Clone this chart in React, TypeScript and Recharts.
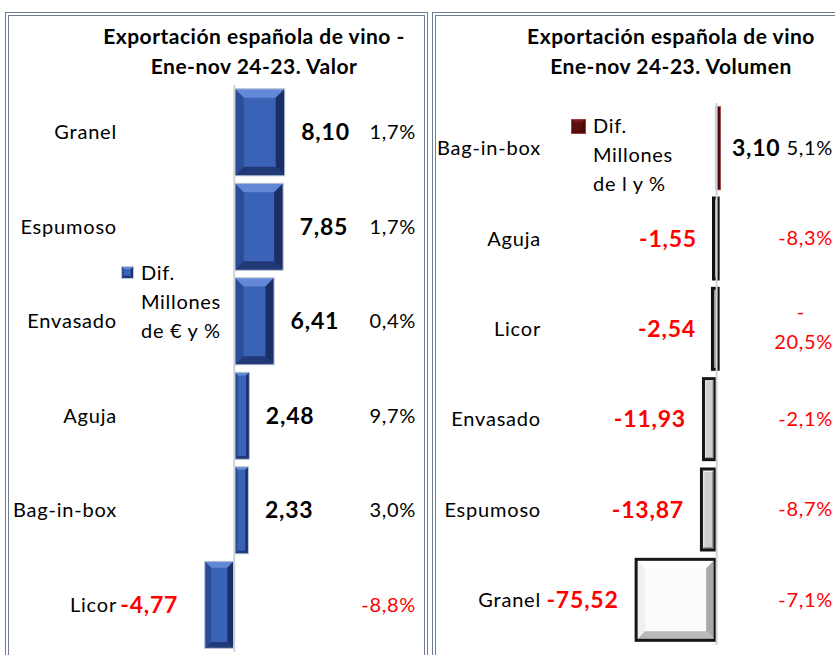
import React from "react";
import { BarChart, Bar, XAxis, YAxis, Cell, LabelList, Legend, ReferenceLine } from "recharts";

// Valor (millones de €)
const valorCategories = ["Granel", "Espumoso", "Envasado", "Aguja", "Bag-in-box", "Licor"];
const valorDiff = [8.1, 7.85, 6.41, 2.48, 2.33, -4.77];
const valorPct = [1.7, 1.7, 0.4, 9.7, 3.0, -8.8];

// Volumen (millones de litros)
const volumenCategories = ["Bag-in-box", "Aguja", "Licor", "Envasado", "Espumoso", "Granel"];
const volumenDiff = [3.1, -1.55, -2.54, -11.93, -13.87, -75.52];
const volumenPct = [5.1, -8.3, -20.5, -2.1, -8.7, -7.1];

const FONT = "Lato, 'Open Sans', sans-serif";

type Look = { face: string; light: string; side: string; dark: string; edge: string; edgeWidth: number };

const blueLook: Look = { face: "#3a62b6", light: "#6388d6", side: "#2b4c96", dark: "#1b2f66", edge: "#c3cad6", edgeWidth: 1 };

const volumenLooks: Look[] = [
  { face: "#5a1010", light: "#7a1a1a", side: "#5a1010", dark: "#4a0a0a", edge: "#9a4040", edgeWidth: 1 },
  { face: "#555", light: "#888", side: "#333", dark: "#9a9a9a", edge: "#111", edgeWidth: 3 },
  { face: "#555", light: "#888", side: "#333", dark: "#9a9a9a", edge: "#111", edgeWidth: 3 },
  { face: "#cfcfcf", light: "#f2f2f2", side: "#e6e6e6", dark: "#8a8a8a", edge: "#161616", edgeWidth: 3 },
  { face: "#cfcfcf", light: "#f2f2f2", side: "#e6e6e6", dark: "#8a8a8a", edge: "#161616", edgeWidth: 3 },
  { face: "#fbfbfb", light: "#ffffff", side: "#f0f0f0", dark: "#a9a9a9", edge: "#161616", edgeWidth: 3 },
];

const valorData = valorCategories.map((name, i) => ({ name, diff: valorDiff[i], pct: valorPct[i] }));
const volumenData = volumenCategories.map((name, i) => ({ name, diff: volumenDiff[i], pct: volumenPct[i] }));

const fmtNum = (v: number) => v.toFixed(2).replace(".", ",");
const fmtPct = (v: number) => v.toFixed(1).replace(".", ",") + "%";

const box = (p: any) => {
  const vb = p.viewBox || p;
  const x = Number(vb.x), w = Number(vb.width);
  return { left: w < 0 ? x + w : x, w: Math.abs(w), y: Number(vb.y), h: Number(vb.height), neg: w < 0 };
};

const BevelRect = ({ x, y, w, h, look }: { x: number; y: number; w: number; h: number; look: Look }) => {
  const e = look.edgeWidth;
  if (w < 7) {
    // very thin bars: outline drawn around the bar, as Excel does
    const ox = x - e, ow = w + 2 * e;
    return (
      <g>
        <rect x={ox} y={y} width={ow} height={h} fill={look.edge} />
        {e > 1 && <rect x={ox + e} y={y + e} width={Math.max(ow - 2 * e, 1)} height={h - 2 * e} fill={look.dark} />}
        {e === 1 && <rect x={ox + 1} y={y + 1} width={Math.max(ow - 2, 1)} height={h - 2} fill={look.dark} />}
      </g>
    );
  }
  const ix = x + e / 2, iy = y + e / 2, iw = w - e, ih = h - e;
  const b = Math.min(9, iw * 0.22, ih * 0.22);
  return (
    <g>
      <rect x={ix} y={iy} width={iw} height={ih} fill={look.face} />
      <polygon points={`${ix},${iy} ${ix + iw},${iy} ${ix + iw - b},${iy + b} ${ix + b},${iy + b}`} fill={look.light} />
      <polygon points={`${ix},${iy} ${ix + b},${iy + b} ${ix + b},${iy + ih - b} ${ix},${iy + ih}`} fill={look.side} />
      <polygon points={`${ix + iw},${iy} ${ix + iw},${iy + ih} ${ix + iw - b},${iy + ih - b} ${ix + iw - b},${iy + b}`} fill={look.dark} />
      <polygon points={`${ix},${iy + ih} ${ix + b},${iy + ih - b} ${ix + iw - b},${iy + ih - b} ${ix + iw},${iy + ih}`} fill={look.dark} opacity={0.8} />
      <rect x={x + e / 2} y={y + e / 2} width={w - e} height={h - e} fill="none" stroke={look.edge} strokeWidth={e} />
    </g>
  );
};

const valorShape = (props: any) => {
  const r = box(props);
  return <BevelRect x={r.left} y={r.y} w={r.w} h={r.h} look={blueLook} />;
};

const volumenShape = (props: any) => {
  const r = box(props);
  const look = volumenLooks[props.index] || volumenLooks[5];
  // thick outline sits outside the bar on its far side
  const grow = look.edgeWidth > 1 && r.w >= 7 ? 2 : 0;
  return <BevelRect x={r.left - grow} y={r.y} w={r.w + grow} h={r.h} look={look} />;
};

const makeValueLabel = (gapPos: number, gapNeg: number) => (props: any) => {
  const r = box(props);
  const v = Number(props.value);
  const neg = v < 0;
  const cy = r.y + r.h / 2;
  return (
    <text
      x={neg ? r.left - gapNeg : r.left + r.w + gapPos}
      y={cy}
      dy="0.35em"
      textAnchor={neg ? "end" : "start"}
      fontSize={23}
      fontWeight={700}
      letterSpacing={0.8}
      fill={neg ? "#ff0000" : "#000"}
    >
      {fmtNum(v)}
    </text>
  );
};

const makePctLabel = (rightX: number) => (props: any) => {
  const r = box(props);
  const v = Number(props.value);
  const s = fmtPct(v);
  const cy = r.y + r.h / 2;
  const color = v < 0 ? "#ff0000" : "#000";
  if (s.length > 5) {
    return (
      <text x={rightX} y={cy} textAnchor="end" fontSize={20} letterSpacing={0.7} fill={color}>
        <tspan x={rightX - 28} dy="-0.5em">-</tspan>
        <tspan x={rightX} dy="1.5em">{s.slice(1)}</tspan>
      </text>
    );
  }
  return (
    <text x={rightX} y={cy} dy="0.35em" textAnchor="end" fontSize={20} letterSpacing={0.7} fill={color}>
      {s}
    </text>
  );
};

const LegendBlock = ({ lines, square, size }: { lines: string[]; square: Look; size: number }) => (
  <div style={{ display: "flex", alignItems: "flex-start", fontFamily: FONT, fontSize: 20, letterSpacing: 0.7, lineHeight: "29px", color: "#000" }}>
    <svg width={size + 7} height={size} style={{ marginTop: 8 }}>
      <BevelRect x={0} y={0} w={size} h={size} look={square} />
    </svg>
    <div>
      {lines.map((l) => (
        <div key={l}>{l}</div>
      ))}
    </div>
  </div>
);

const Frame = ({ left, width }: { left: number; width: number }) => (
  <div
    style={{
      position: "absolute",
      left,
      top: 12,
      width,
      height: 700,
      border: "4px double #6f7d93",
      boxSizing: "border-box",
    }}
  />
);

const Title = ({ cx, lines }: { cx: number; lines: string[] }) => (
  <div
    style={{
      position: "absolute",
      left: cx - 200,
      top: 21,
      width: 400,
      textAlign: "center",
      fontFamily: FONT,
      fontWeight: 700,
      fontSize: 21,
      letterSpacing: 0.5,
      lineHeight: "30px",
      color: "#000",
    }}
  >
    {lines.map((l) => (
      <div key={l}>{l}</div>
    ))}
  </div>
);

const tickStyle = { fill: "#000", fontSize: 20, letterSpacing: 0.8 };

export default function App() {
  return (
    <div style={{ position: "absolute", left: 0, top: 0, width: 835, height: 655, overflow: "hidden", background: "#fff", fontFamily: FONT }}>
      <Frame left={5} width={423} />
      <Frame left={432} width={420} />
      <Title cx={254} lines={["Exportación española de vino -", "Ene-nov 24-23. Valor"]} />
      <Title cx={671} lines={["Exportación española de vino", "Ene-nov 24-23. Volumen"]} />

      <div style={{ position: "absolute", left: 0, top: 0 }}>
        <BarChart width={428} height={655} data={valorData} layout="vertical" barCategoryGap="3.5%" margin={{ top: 85, right: 5, bottom: 3, left: 0 }}>
          <XAxis type="number" domain={[-18, 30]} allowDataOverflow hide />
          <YAxis
            type="category"
            dataKey="name"
            width={121}
            axisLine={false}
            tickLine={false}
            tickSize={0}
            tickMargin={4}
            interval={0}
            tick={tickStyle}
          />
          <ReferenceLine x={0} stroke="#cfd3da" strokeWidth={2} />
          <Legend
            layout="vertical"
            align="center"
            verticalAlign="middle"
            wrapperStyle={{ left: 121, top: 258, width: 120 }}
            content={() => <LegendBlock lines={["Dif.", "Millones", "de € y %"]} square={blueLook} size={13} />}
          />
          <Bar dataKey="diff" name="Dif. Millones de € y %" isAnimationActive={false} shape={valorShape}>
            {valorData.map((d) => (
              <Cell key={d.name} fill={blueLook.face} />
            ))}
            <LabelList dataKey="diff" content={makeValueLabel(16, 26)} />
            <LabelList dataKey="pct" content={makePctLabel(416)} />
          </Bar>
        </BarChart>
      </div>

      <div style={{ position: "absolute", left: 432, top: 0 }}>
        <BarChart width={403} height={655} data={volumenData} layout="vertical" barCategoryGap="3.5%" margin={{ top: 103, right: 5, bottom: 10, left: 0 }}>
          <XAxis type="number" domain={[-162, 107]} allowDataOverflow hide />
          <YAxis
            type="category"
            dataKey="name"
            width={113}
            axisLine={false}
            tickLine={false}
            tickSize={0}
            tickMargin={4}
            interval={0}
            tick={tickStyle}
          />
          <ReferenceLine x={0} stroke="#cfd3da" strokeWidth={2} />
          <Legend
            layout="vertical"
            align="center"
            verticalAlign="middle"
            wrapperStyle={{ left: 139, top: 111, width: 130 }}
            content={() => <LegendBlock lines={["Dif.", "Millones", "de l y %"]} square={volumenLooks[0]} size={15} />}
          />
          <Bar dataKey="diff" name="Dif. Millones de l y %" isAnimationActive={false} shape={volumenShape}>
            {volumenData.map((d, i) => (
              <Cell key={d.name} fill={volumenLooks[i].face} />
            ))}
            <LabelList dataKey="diff" content={makeValueLabel(12, 18)} />
            <LabelList dataKey="pct" content={makePctLabel(401)} />
          </Bar>
        </BarChart>
      </div>
    </div>
  );
}
